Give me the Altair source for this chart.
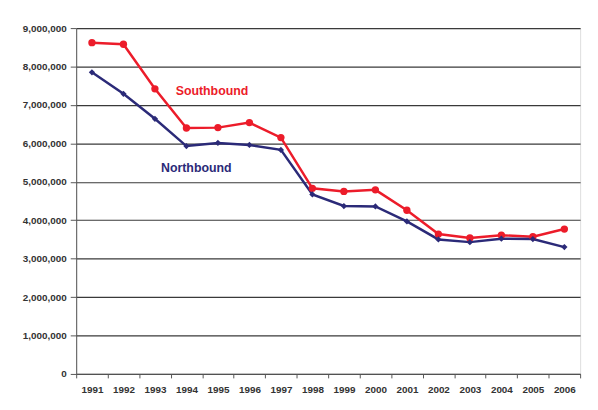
import altair as alt
import pandas as pd

years = [str(y) for y in range(1991, 2007)]
southbound = [8620000, 8580000, 7420000, 6400000, 6410000, 6540000, 6150000, 4830000,
              4750000, 4790000, 4260000, 3640000, 3540000, 3610000, 3570000, 3770000]
northbound = [7850000, 7290000, 6640000, 5930000, 6010000, 5960000, 5830000, 4670000,
              4370000, 4360000, 3970000, 3500000, 3430000, 3520000, 3510000, 3300000]
series = ["Southbound", "Northbound"]
label_years = ["1995", "1994"]
label_values = [7350000, 5370000]
label_dx = [-6, 10]

RED = "#EC1C2A"
NAVY = "#2B2A78"

sb = pd.DataFrame({"year": years, "value": southbound})
nb = pd.DataFrame({"year": years, "value": northbound})
lab = pd.DataFrame({"year": label_years, "value": label_values, "name": series})

xenc = alt.X("year:O", title=None,
             scale=alt.Scale(type="band", domain=years, paddingInner=0, paddingOuter=0),
             axis=alt.Axis(tickBand="extent", labelAngle=0, tickSize=4, labelPadding=7,
                           labelFont="Liberation Sans", labelFontSize=10, labelFontWeight="bold",
                           labelColor="#333333", domainColor="#555555", tickColor="#555555",
                           grid=False, labelOverlap=False))
yenc = alt.Y("value:Q", title=None,
             scale=alt.Scale(domain=[0, 9000000], nice=False),
             axis=alt.Axis(values=list(range(0, 9000001, 1000000)), format=",d",
                           tickSize=6, labelPadding=4, labelFont="Liberation Sans",
                           labelFontSize=10, labelFontWeight="bold", labelColor="#333333",
                           domainColor="#555555", tickColor="#555555", labelOverlap=False,
                           grid=True, gridColor="#3a3a3a", gridWidth=1.2))

red_line = alt.Chart(sb).mark_line(color=RED, strokeWidth=2.5).encode(x=xenc, y=yenc)
red_pts = alt.Chart(sb).mark_point(color=RED, filled=True, opacity=1, size=55, shape="circle").encode(x=xenc, y=yenc)
navy_line = alt.Chart(nb).mark_line(color=NAVY, strokeWidth=2.5).encode(x=xenc, y=yenc)
navy_pts = alt.Chart(nb).mark_point(color=NAVY, filled=True, opacity=1, size=40, shape="diamond").encode(x=xenc, y=yenc)

sb_lab = alt.Chart(lab.iloc[[0]]).mark_text(color=RED, font="Liberation Sans", fontSize=12.5,
                                            fontWeight="bold", dx=label_dx[0]).encode(
    x=xenc, y=yenc, text="name:N")
nb_lab = alt.Chart(lab.iloc[[1]]).mark_text(color=NAVY, font="Liberation Sans", fontSize=12.5,
                                            fontWeight="bold", dx=label_dx[1]).encode(
    x=xenc, y=yenc, text="name:N")

chart = alt.layer(red_line, navy_line, red_pts, navy_pts, sb_lab, nb_lab).properties(
    width=510, height=350,
    autosize=alt.AutoSizeParams(type="none"),
    padding={"left": 69, "top": 18, "right": 10, "bottom": 20},
).configure_view(stroke=None).configure(background="white")

chart.save("out.html", embed_options={"renderer": "svg", "actions": False})
